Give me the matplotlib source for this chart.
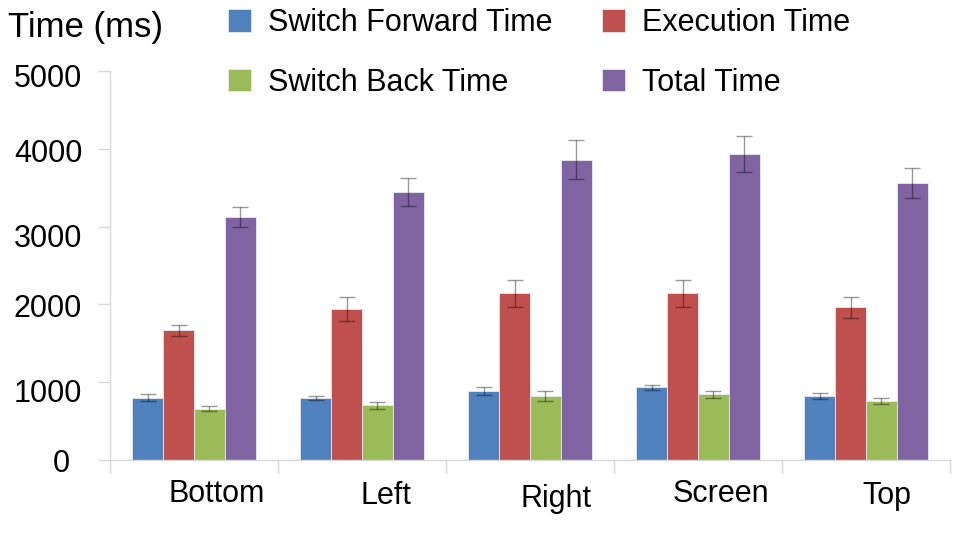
import numpy as np
import matplotlib
matplotlib.use("Agg")
import matplotlib.pyplot as plt
import matplotlib.transforms as mtransforms

plt.rcParams['font.family'] = ['Liberation Sans', 'DejaVu Sans']

# data
categories = ["Bottom", "Left", "Right", "Screen", "Top"]
series_names = ["Switch Forward Time", "Execution Time", "Switch Back Time", "Total Time"]

forward_time = [800, 797, 887, 934, 823]
forward_err = [45, 20, 55, 35, 35]
execution_time = [1667, 1941, 2142, 2142, 1962]
execution_err = [68, 148, 174, 174, 135]
back_time = [660, 703, 823, 844, 754]
back_err = [32, 45, 70, 47, 38]
total_time = [3127, 3449, 3860, 3929, 3560]
total_err = [126, 182, 250, 231, 197]

yticks = [0, 1000, 2000, 3000, 4000, 5000]

colors = ["#4F81BD", "#C0504D", "#9BBB59", "#8064A2"]

fig = plt.figure(figsize=(9.63, 5.37), dpi=100)
ax = fig.add_axes([110 / 963, 77 / 537, 840 / 963, 389 / 537])

x = np.arange(len(categories))
bar_w = 0.1845
values = [forward_time, execution_time, back_time, total_time]
errors = [forward_err, execution_err, back_err, total_err]

bars = []
for i, (vals, errs) in enumerate(zip(values, errors)):
    offs = (i - 1.5) * bar_w
    b = ax.bar(x + offs, vals, bar_w, color=colors[i], edgecolor="#e8e8ee",
               linewidth=0.6, label=series_names[i], zorder=2)
    ax.errorbar(x + offs, vals, yerr=errs, fmt="none", ecolor="black",
                alpha=0.4, elinewidth=1, capsize=5.5, capthick=1, zorder=3)
    bars.append(b)

ax.set_xlim(-0.5, len(categories) - 0.5)
ax.set_ylim(0, 5000)
ax.set_yticks(yticks)
ax.set_yticklabels([str(v) for v in yticks], fontsize=22)

# category labels in the middle, divider ticks at category boundaries
ax.set_xticks(x)
ax.set_xticklabels(categories, fontsize=22)
ax.set_xticks(np.arange(-0.5, len(categories)), minor=True)
ax.tick_params(axis="x", which="major", length=0, pad=14)
ax.tick_params(axis="x", which="minor", length=9, color="#d9d9d9", width=1)
ax.tick_params(axis="y", length=9, color="#d9d9d9", width=1, pad=11)

# labels sit a bit right of the category centre in the original
label_shift = [(23, 0), (24, 2), (26, 5), (23, 0), (21, 2)]
for lab, (dx, dy) in zip(ax.get_xticklabels(), label_shift):
    off = mtransforms.ScaledTranslation(dx / 100, -dy / 100, fig.dpi_scale_trans)
    lab.set_transform(lab.get_transform() + off)

# y labels sit a little low, and the "0" is pulled left
ylab_shift = [(-12, 1), (0, 8), (0, 1), (0, 9), (0, 2), (0, 5)]
for lab, (dx, dy) in zip(ax.get_yticklabels(), ylab_shift):
    off = mtransforms.ScaledTranslation(dx / 100, -dy / 100, fig.dpi_scale_trans)
    lab.set_transform(lab.get_transform() + off)

for s in ["top", "right"]:
    ax.spines[s].set_visible(False)
for s in ["left", "bottom"]:
    ax.spines[s].set_color("#d9d9d9")
    ax.spines[s].set_linewidth(1)

fig.text(8 / 963, 1 - 11 / 537, "Time (ms)", fontsize=25, ha="left", va="top")

order = [0, 2, 1, 3]
fig.legend([bars[k] for k in order], [series_names[k] for k in order],
           loc="upper left", bbox_to_anchor=(228 / 963, 1 - 8 / 537),
           ncol=2, frameon=False, fontsize=22, handlelength=0.75,
           handleheight=0.75, handletextpad=0.55, columnspacing=1.63,
           labelspacing=0.98, borderpad=0, borderaxespad=0)

fig.savefig("out.png", dpi=100)
